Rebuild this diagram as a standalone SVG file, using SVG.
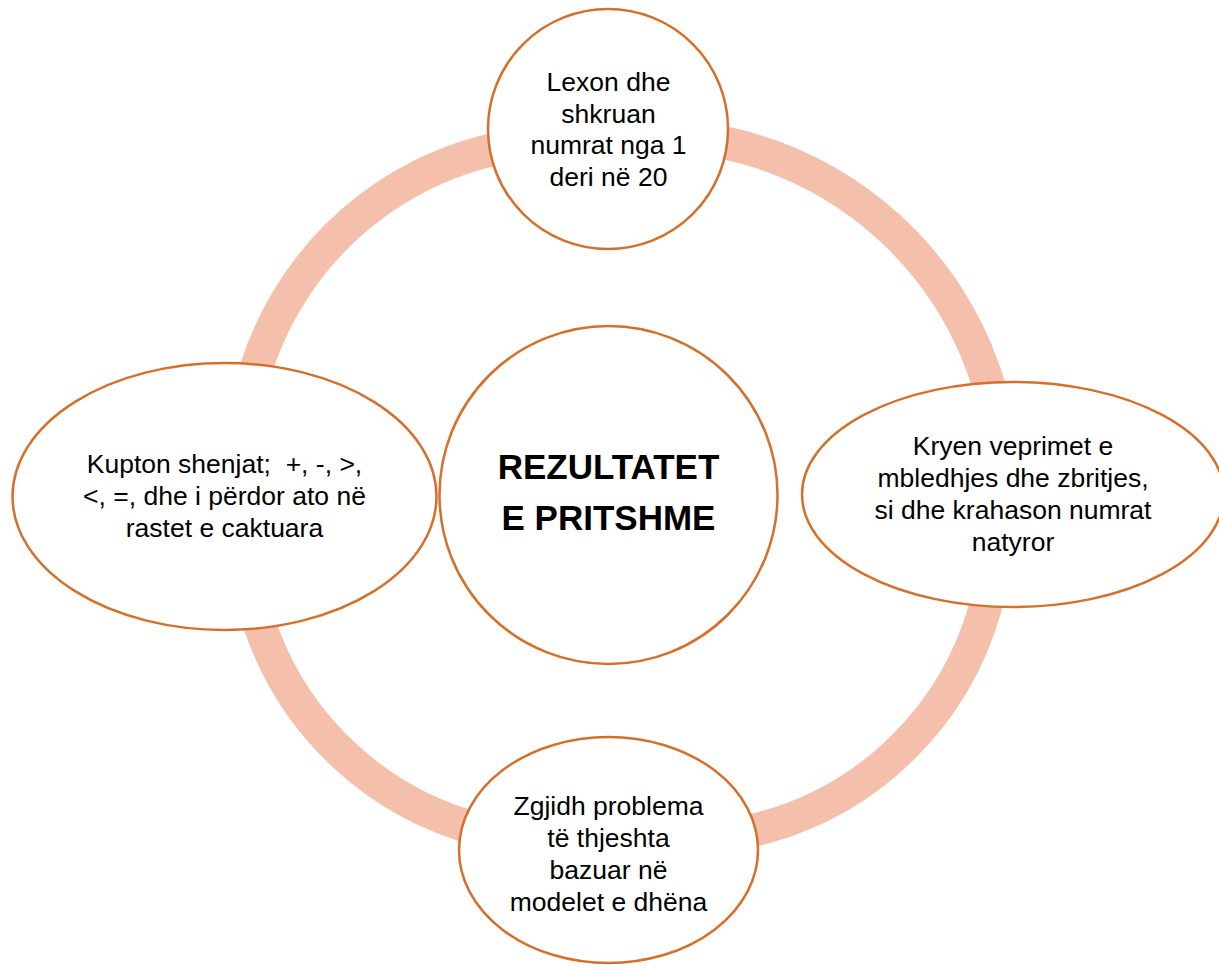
<svg xmlns="http://www.w3.org/2000/svg" width="1219" height="969" viewBox="0 0 1219 969">
<style>
.ring{fill:none;stroke:#F4C0AC;stroke-width:33;stroke-linecap:butt}
.node{fill:#FFFFFF;stroke:#D4702C;stroke-width:2.5}
.t{font-family:"Liberation Sans",Arial,sans-serif;font-size:26.5px;fill:#000;text-anchor:middle}
.h{font-family:"Liberation Sans",Arial,sans-serif;font-size:35px;font-weight:bold;fill:#000;text-anchor:middle}
</style>
<rect width="1219" height="969" fill="#FFFFFF"/>
<g id="connectors">
<path class="ring" d="M246.0,410.4 A326,326 0 0 1 595.4,142.2"/>
<path class="ring" d="M620.2,136.3 A353,353 0 0 1 1004,488"/>
<path class="ring" d="M992.2,467.0 A317,317 0 0 1 625.0,834.2"/>
<path class="ring" d="M615.0,835.2 A317,317 0 0 1 244.2,495.4"/>
</g>
<g id="center">
<circle class="node" cx="608.5" cy="495" r="169"/>
<text class="h" x="608.5" y="479">REZULTATET</text>
<text class="h" x="608.5" y="530">E PRITSHME</text>
</g>
<g id="top">
<circle class="node" cx="608" cy="129" r="120"/>
<text class="t" x="608.5" y="90.7">Lexon dhe</text>
<text class="t" x="608.5" y="122.7">shkruan</text>
<text class="t" x="608.5" y="154.3">numrat nga 1</text>
<text class="t" x="608.5" y="186">deri në 20</text>
</g>
<g id="right">
<ellipse class="node" cx="1013" cy="494.5" rx="211" ry="112.5"/>
<text class="t" x="1013" y="455">Kryen veprimet e</text>
<text class="t" x="1013" y="486.7">mbledhjes dhe zbritjes,</text>
<text class="t" x="1013" y="519">si dhe krahason numrat</text>
<text class="t" x="1013" y="551">natyror</text>
</g>
<g id="bottom">
<ellipse class="node" cx="608.5" cy="850" rx="149.5" ry="113"/>
<text class="t" x="608.5" y="815">Zgjidh problema</text>
<text class="t" x="608.5" y="846.7">të thjeshta</text>
<text class="t" x="608.5" y="879">bazuar në</text>
<text class="t" x="608.5" y="910.7">modelet e dhëna</text>
</g>
<g id="left">
<ellipse class="node" cx="224.5" cy="496.5" rx="212" ry="133.5"/>
<text class="t" x="224.5" y="473.3" xml:space="preserve">Kupton shenjat;  +, -, &gt;,</text>
<text class="t" x="224.5" y="505">&lt;, =, dhe i përdor ato në</text>
<text class="t" x="224.5" y="537.3">rastet e caktuara</text>
</g>
</svg>
